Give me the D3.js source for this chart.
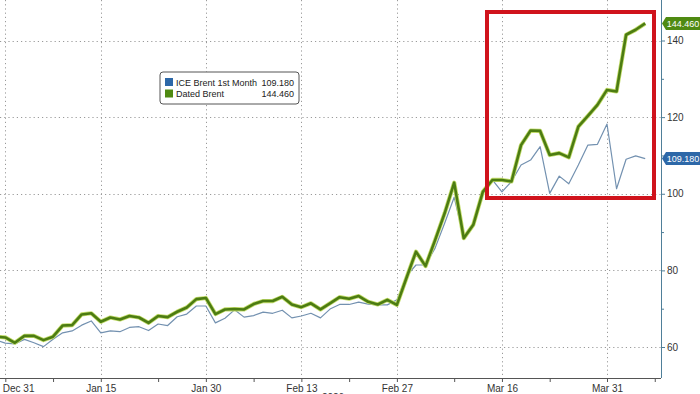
<!doctype html>
<html lang='en'>
<head>
    <meta charset='UTF-8'>
    <title>Brent</title>
    <style>
        body { margin: 0; background: #fff; }
        svg { display: block; font-family: 'Liberation Sans', Arial, sans-serif; }
        .grid line { stroke: #9a9a9a; stroke-dasharray: 1.2 3; stroke-width: 1; }
    </style>
</head>
<body>
<script src='https://d3js.org/d3.v7.min.js'></script>
<script>
  // trading days (Dec 30 .. Apr 6, plus Apr 7 for the last axis tick)
  const dates = [
    'Dec 30', 'Dec 31', 'Jan 2',
    'Jan 5', 'Jan 6', 'Jan 7', 'Jan 8', 'Jan 9',
    'Jan 12', 'Jan 13', 'Jan 14', 'Jan 15', 'Jan 16',
    'Jan 19', 'Jan 20', 'Jan 21', 'Jan 22', 'Jan 23',
    'Jan 26', 'Jan 27', 'Jan 28', 'Jan 29', 'Jan 30',
    'Feb 2', 'Feb 3', 'Feb 4', 'Feb 5', 'Feb 6',
    'Feb 9', 'Feb 10', 'Feb 11', 'Feb 12', 'Feb 13',
    'Feb 16', 'Feb 17', 'Feb 18', 'Feb 19', 'Feb 20',
    'Feb 23', 'Feb 24', 'Feb 25', 'Feb 26', 'Feb 27',
    'Mar 2', 'Mar 3', 'Mar 4', 'Mar 5', 'Mar 6',
    'Mar 9', 'Mar 10', 'Mar 11', 'Mar 12', 'Mar 13',
    'Mar 16', 'Mar 17', 'Mar 18', 'Mar 19', 'Mar 20',
    'Mar 23', 'Mar 24', 'Mar 25', 'Mar 26', 'Mar 27',
    'Mar 30', 'Mar 31', 'Apr 1', 'Apr 2', 'Apr 3', 'Apr 6', 'Apr 7'
  ]

  const iceBrent = [
    61.8, 61.0, 60.8, 62.0, 61.1, 60.1, 62.0, 63.7, 64.2, 65.7,
    66.8, 63.7, 64.2, 64.0, 65.1, 65.3, 64.3, 66.0, 65.6, 67.9,
    68.6, 70.7, 70.7, 66.3, 67.5, 69.7, 67.8, 68.2, 69.1, 68.8,
    69.6, 67.6, 68.1, 68.8, 67.6, 69.9, 71.1, 71.1, 71.7, 71.2,
    71.0, 71.0, 72.3, 78.5, 81.4, 81.4, 85.8, 92.3, 99.1, 88.4,
    91.9, 100.0, 103.6, 100.5, 103.2, 107.5, 108.8, 112.3, 100.1, 104.6,
    102.6, 107.5, 112.7, 112.9, 118.2, 101.3, 109.0, 109.9, 109.18
  ]

  const datedBrent = [
    62.7, 62.5, 61.1, 62.9, 62.9, 61.8, 62.7, 65.6, 65.7, 68.5,
    68.8, 66.6, 67.7, 67.2, 68.1, 67.7, 66.3, 68.1, 67.8, 69.2,
    70.3, 72.5, 72.8, 68.6, 69.8, 69.9, 69.8, 71.2, 72.0, 72.0,
    73.1, 71.1, 70.4, 71.4, 69.8, 71.4, 73.0, 72.6, 73.3, 71.8,
    71.1, 72.3, 71.0, 78.0, 84.9, 81.1, 87.9, 94.9, 102.9, 88.4,
    91.9, 100.5, 103.6, 103.6, 103.2, 112.7, 116.5, 116.4, 110.1, 110.6,
    109.5, 117.5, 120.3, 123.2, 127.1, 126.7, 141.5, 142.8, 144.46
  ]

  const majorTicks = ['Dec 31', 'Jan 15', 'Jan 30', 'Feb 13', 'Feb 27', 'Mar 16', 'Mar 31']
  const minorTicks = ['Jan 8', 'Jan 23', 'Feb 6', 'Feb 20', 'Mar 9', 'Mar 23', 'Apr 7']
  const yTicks = [60, 80, 100, 120, 140]
  const yMinor = [70, 90, 110, 130]
  const yearLabel = '2026'

  const seriesNames = ['ICE Brent 1st Month', 'Dated Brent']
  const seriesColors = ['#2d68a8', '#4f8a12']

  const w = 700
  const h = 394
  const plotR = 661
  const plotB = 378

  const x = d3.scaleLinear()
    .domain([dates.indexOf('Dec 31'), dates.indexOf('Mar 31')])
    .range([5.3, 607])

  const y = d3.scaleLinear()
    .domain([60, 140])
    .range([347, 40.5])

  const svg = d3.select('body')
    .append('svg')
    .attr('width', w)
    .attr('height', h)

  svg.append('clipPath').attr('id', 'clip')
    .append('rect').attr('x', 0).attr('y', 0).attr('width', plotR).attr('height', plotB)

  /******************** grid ******************/
  const grid = svg.append('g').attr('class', 'grid')
  grid.selectAll('.gy')
    .data(yTicks)
    .enter()
    .append('line')
    .attr('x1', 0).attr('x2', plotR)
    .attr('y1', d => Math.round(y(d)) + 0.5).attr('y2', d => Math.round(y(d)) + 0.5)
  grid.selectAll('.gx')
    .data(majorTicks)
    .enter()
    .append('line')
    .attr('x1', d => Math.round(x(dates.indexOf(d))) + 0.5)
    .attr('x2', d => Math.round(x(dates.indexOf(d))) + 0.5)
    .attr('y1', 0).attr('y2', plotB)

  /******************** axes ******************/
  const xAxis = d3.axisBottom(x)
    .tickValues(majorTicks.map(d => dates.indexOf(d)))
    .tickFormat(i => dates[i])
    .tickSize(4)
    .tickPadding(3)
  const gx = svg.append('g')
    .attr('transform', `translate(0,${plotB})`)
    .call(xAxis)
  gx.select('.domain').attr('d', `M0,0.5H${plotR}`).attr('stroke', '#555')
  gx.selectAll('.tick line').attr('stroke', '#555')
  gx.selectAll('.tick text')
    .attr('font-size', 10)
    .attr('fill', '#333')
    .attr('font-family', 'Liberation Sans, Arial, sans-serif')
  // first label sits against the left edge
  gx.selectAll('.tick text').filter((d, i) => i === 0)
    .attr('text-anchor', 'start')
    .attr('x', -3)

  svg.append('g')
    .attr('transform', `translate(0,${plotB})`)
    .call(d3.axisBottom(x).tickValues(minorTicks.map(d => dates.indexOf(d))).tickFormat('').tickSize(4))
    .call(g => g.select('.domain').remove())
    .call(g => g.selectAll('.tick line').attr('stroke', '#555'))

  svg.append('text')
    .attr('x', 333).attr('y', 401)
    .attr('text-anchor', 'middle')
    .attr('font-size', 10)
    .attr('fill', '#333')
    .text(yearLabel)

  const yAxis = d3.axisRight(y)
    .tickValues(yTicks)
    .tickSize(4)
    .tickPadding(2)
  const gy = svg.append('g')
    .attr('transform', `translate(${plotR},0)`)
    .call(yAxis)
  gy.select('.domain').attr('d', `M0.5,0V${plotB}`).attr('stroke', '#4f7f99')
  gy.selectAll('.tick line').attr('stroke', '#4f7f99')
  gy.selectAll('.tick text')
    .attr('font-size', 10)
    .attr('fill', '#333')
    .attr('font-family', 'Liberation Sans, Arial, sans-serif')

  svg.append('g')
    .attr('transform', `translate(${plotR},0)`)
    .call(d3.axisRight(y).tickValues(yMinor).tickFormat('').tickSize(3))
    .call(g => g.select('.domain').remove())
    .call(g => g.selectAll('.tick line').attr('stroke', '#4f7f99'))

  /******************** lines ******************/
  const line = d3.line()
    .x((d, i) => x(i))
    .y(d => y(d))

  const plot = svg.append('g').attr('clip-path', 'url(#clip)')

  plot.append('path')
    .datum(iceBrent)
    .attr('d', line)
    .attr('fill', 'none')
    .attr('stroke', '#7391b0')
    .attr('stroke-width', 1.2)
    .attr('stroke-linejoin', 'round')

  plot.append('path')
    .datum(datedBrent)
    .attr('d', line)
    .attr('fill', 'none')
    .attr('stroke', '#c2dc6a')
    .attr('stroke-width', 4.2)
    .attr('stroke-linejoin', 'round')

  plot.append('path')
    .datum(datedBrent)
    .attr('d', line)
    .attr('fill', 'none')
    .attr('stroke', '#4c7c12')
    .attr('stroke-width', 2.6)
    .attr('stroke-linejoin', 'round')

  /******************** red highlight box ******************/
  svg.append('rect')
    .attr('x', 487).attr('y', 12)
    .attr('width', 167).attr('height', 186)
    .attr('fill', 'none')
    .attr('stroke', '#d0131c')
    .attr('stroke-width', 4)

  /******************** last value labels ******************/
  const lastVals = [iceBrent[iceBrent.length - 1], datedBrent[datedBrent.length - 1]]
  const lab = svg.selectAll('.lastlab')
    .data(lastVals)
    .enter()
    .append('g')
    .attr('transform', d => `translate(${plotR + 1},${y(d)})`)
  lab.append('path')
    .attr('d', 'M0,0 L4,-6.5 H38 V6.5 H4 Z')
    .attr('fill', (d, i) => seriesColors[i])
  lab.append('text')
    .attr('x', 21).attr('y', 3.3)
    .attr('text-anchor', 'middle')
    .attr('font-size', 9)
    .attr('fill', '#fff')
    .text(d => d.toFixed(3))

  /******************** legend ******************/
  const lg = svg.append('g').attr('transform', 'translate(160,72)')
  lg.append('rect')
    .attr('x', 0).attr('y', 0)
    .attr('width', 139).attr('height', 32)
    .attr('rx', 3)
    .attr('fill', '#fff')
    .attr('stroke', '#555')
    .attr('stroke-width', 1)
  const rows = lg.selectAll('.row')
    .data(seriesNames)
    .enter()
    .append('g')
    .attr('transform', (d, i) => `translate(5,${6 + i * 11.5})`)
  rows.append('rect')
    .attr('width', 8).attr('height', 8)
    .attr('fill', (d, i) => seriesColors[i])
  rows.append('text')
    .attr('x', 11).attr('y', 7.8)
    .attr('font-size', 9)
    .attr('fill', '#222')
    .text(d => d)
  rows.append('text')
    .attr('x', 129).attr('y', 7.8)
    .attr('text-anchor', 'end')
    .attr('font-size', 9)
    .attr('fill', '#222')
    .text((d, i) => lastVals[i].toFixed(3))
</script>
</body>
</html>
